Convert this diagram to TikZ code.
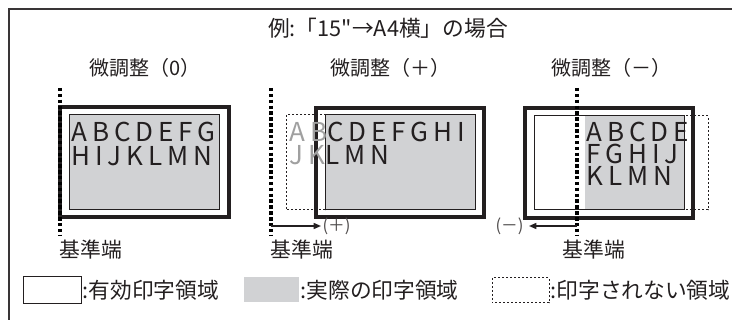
\documentclass[tikz,border=0pt]{standalone}
\usepackage{fontspec}
\setmainfont{Noto Sans CJK JP}[Ligatures=TeXOff]
\newfontfamily\letterfont[LetterSpace=19]{Noto Sans CJK JP}
\usetikzlibrary{arrows.meta}

\definecolor{inkgray}{RGB}{35,31,32}
\definecolor{areagray}{RGB}{209,210,212}
\definecolor{fadedgray}{RGB}{160,160,160}

\tikzset{every picture/.style={line width=0.75pt}}
\tikzset{
  paperframe/.style={draw=inkgray, line width=2.3pt},
  printarea/.style={draw=inkgray, line width=0.75pt},
  noprint/.style={draw=inkgray, line width=0.75pt, dash pattern=on 1.5pt off 1.5pt},
  kijunline/.style={draw=black, line width=2.4pt, line cap=butt, dash pattern=on 2.6pt off 1.8pt},
  shiftarrow/.style={draw=inkgray, line width=1.1pt, -{Triangle[length=5.5pt,width=4.5pt]}},
  headtext/.style={inner sep=0pt, text=inkgray, font=\fontsize{15pt}{18pt}\selectfont},
  legendtext/.style={inner sep=0pt, anchor=west, text=inkgray, font=\fontsize{16.3pt}{19pt}\selectfont},
  bigletters/.style={inner sep=0pt, anchor=base west, text height=14pt, text depth=0pt, text=inkgray, font=\letterfont\fontsize{19.5pt}{22pt}\selectfont},
  smalltext/.style={inner sep=0pt, text=inkgray!80, font=\fontsize{12.5pt}{14pt}\selectfont}
}

\begin{document}
\begin{tikzpicture}[x=0.75pt,y=0.75pt,yscale=-1,xscale=1]
\useasboundingbox (0,0) rectangle (732,320);

%Frame lines
\draw [draw=inkgray!90, line width=1.1pt] (9,320) -- (9,9) -- (732,9) ;

% Text Node
\node (title) at (388,28) [legendtext, anchor=center] {例:「15"→A4横」の場合};

%Panel (0)
% Text Node
\node (headzero) at (145,68) [headtext] {微調整（0）};
%Rectangles
\draw [paperframe] (60,107) rectangle (229,217) ;
\draw [printarea, fill=areagray] (69,115) rectangle (219,210) ;
%Dotted line
\draw [kijunline] (60,88) -- (60,235) ;
% Text Node
\node (zerorowa) at (71,142) [bigletters] {ABCDEFG};
\node (zerorowb) at (71,166) [bigletters] {HIJKLMN};
\node (zeroedge) at (59,250) [headtext, anchor=west, font=\fontsize{15.6pt}{18pt}\selectfont] {基準端};

%Panel (+)
% Text Node
\node (headplus) at (390,68) [headtext] {微調整（＋）};
%Rectangles
\draw [noprint] (286,115) rectangle (325,210) ;
\draw [paperframe] (316,108) rectangle (484,217) ;
\draw [printarea, fill=areagray] (325,115) rectangle (475,210) ;
%Dotted line
\draw [kijunline] (271,88) -- (271,235) ;
% Text Node
\node (plusrowa) at (289,142) [bigletters] {{\color{fadedgray}AB}CDEFGHI};
\node (plusrowb) at (289,165) [bigletters] {{\color{fadedgray}JK}LMN};
\node (plusedge) at (270,250) [headtext, anchor=west, font=\fontsize{15.6pt}{18pt}\selectfont] {基準端};
%Arrow
\coordinate (plusfrom) at (271,226) ;
\coordinate (plusto) at (321,226) ;
\draw [shiftarrow] (plusfrom) -- (plusto) ;
\node (pluslabel) at (322,226) [smalltext, anchor=west] {(＋)};

%Panel (-)
% Text Node
\node (headminus) at (611,68) [headtext] {微調整（－）};
%Rectangles
\draw [paperframe] (525,108) rectangle (693,218) ;
\fill [areagray] (585,116) rectangle (684,210) ;
\draw [printarea] (534,116) rectangle (684,210) ;
\draw [noprint] (684,116) rectangle (708,210) ;
%Dotted line
\draw [kijunline] (577,88) -- (577,235) ;
% Text Node
\node (minusrowa) at (586,142) [bigletters] {ABCDE};
\node (minusrowb) at (586,164) [bigletters] {FGHIJ};
\node (minusrowc) at (586,186) [bigletters] {KLMN};
\node (minusedge) at (562,250) [headtext, anchor=west, font=\fontsize{15.6pt}{18pt}\selectfont] {基準端};
%Arrow
\coordinate (minusfrom) at (577,226) ;
\coordinate (minusto) at (529,226) ;
\draw [shiftarrow] (minusfrom) -- (minusto) ;
\node (minuslabel) at (524,226) [smalltext, anchor=east] {(－)};

%Legend
\draw [printarea] (23,277) rectangle (81,304) ;
\node (legvalid) at (82,290) [legendtext] {:有効印字領域};
\fill [areagray] (244,277) rectangle (299,302) ;
\node (legactual) at (300,290) [legendtext] {:実際の印字領域};
\draw [noprint] (492,278) rectangle (549,303) ;
\node (legnone) at (550,290) [legendtext] {:印字されない領域};

\end{tikzpicture}
\end{document}
